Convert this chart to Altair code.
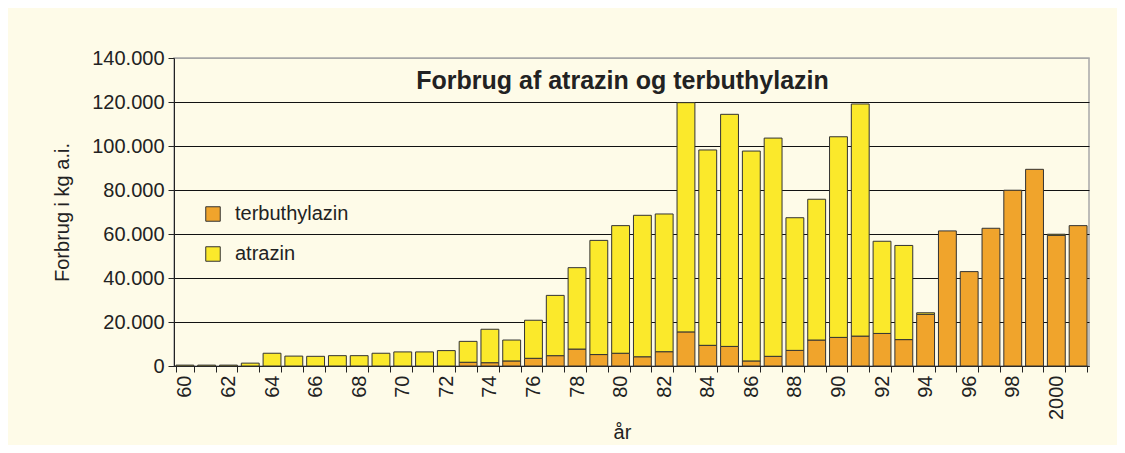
import altair as alt
import pandas as pd

years = list(range(1960, 2002))
terbuthylazin = [0, 0, 0, 0, 0, 0, 0, 0, 0, 0, 0, 0, 0,
                 1700, 1500, 2300, 3500, 4700, 7700, 5200, 5800, 4200, 6500,
                 15500, 9400, 8900, 2300, 4400, 7100, 11800, 13000, 13600, 14800,
                 12000, 23500, 61400, 42900, 62600, 79900, 89400, 59400, 63800]
atrazin = [400, 400, 400, 1300, 5800, 4500, 4400, 4700, 4700, 5800, 6400, 6400, 7000,
           9500, 15200, 9500, 17300, 27400, 37000, 51900, 58000, 64300, 62600,
           104200, 88800, 105500, 95400, 99200, 60300, 64000, 91200, 105500, 41900,
           42800, 700, 0, 0, 0, 0, 0, 500, 0]
series = ["terbuthylazin", "atrazin"]
colors = ["#F0A42C", "#FBE92B"]
y_ticks = [0, 20000, 40000, 60000, 80000, 100000, 120000, 140000]

rows = []
for yr, t, a in zip(years, terbuthylazin, atrazin):
    rows.append({"year": yr, "stof": series[0], "ord": 0, "value": t})
    rows.append({"year": yr, "stof": series[1], "ord": 1, "value": a})
df = pd.DataFrame(rows)

bg = "#FEFBE8"
font = "Liberation Sans"

chart = alt.Chart(df).transform_filter(
    "datum.value > 0"
).mark_bar(stroke="#333333", strokeWidth=1).encode(
    x=alt.X(
        "year:O",
        scale=alt.Scale(paddingInner=0.18),
        axis=alt.Axis(
            title="år",
            labelExpr="datum.value % 2 == 0 ? (datum.value == 2000 ? '2000' : substring(toString(datum.value), 2, 4)) : ''",
            labelAngle=270,
            labelFontSize=20,
            labelOverlap=False,
            tickBand="extent",
            tickSize=6,
            labelPadding=3,
            titleX=448,
            titleY=66,
            titleBaseline="middle",
            titleAlign="center",
        ),
    ),
    y=alt.Y(
        "value:Q",
        stack="zero",
        scale=alt.Scale(domain=[0, 140000], nice=False),
        axis=alt.Axis(
            title="Forbrug i kg a.i.",
            values=y_ticks,
            labelExpr="replace(format(datum.value, ','), ',', '.')",
            labelFontSize=20,
            tickSize=6,
            labelPadding=4,
            gridColor={"condition": {"test": "datum.value == 140000", "value": "#A8A8A8"}, "value": "#111111"},
            titleX=-112,
            titleY=154,
            titleAngle=270,
            titleAlign="center",
            titleBaseline="middle",
        ),
    ),
    color=alt.Color(
        "stof:N",
        scale=alt.Scale(domain=series, range=colors),
        legend=alt.Legend(
            title=None,
            orient="none",
            legendX=29,
            legendY=146,
            labelFontSize=20,
            symbolType="square",
            symbolSize=210,
            symbolStrokeColor="#333333",
            symbolStrokeWidth=1,
            rowPadding=20,
            labelOffset=12,
            padding=0,
        ),
    ),
    order=alt.Order("ord:Q"),
).properties(
    width=915,
    height=308,
    title=alt.TitleParams(
        "Forbrug af atrazin og terbuthylazin",
        fontSize=25,
        fontWeight="bold",
        anchor="middle",
        baseline="middle",
        offset=0,
        dy=58,
        dx=-9,
        color="#222222",
        font=font,
    ),
    autosize=alt.AutoSizeParams(type="none"),
    padding={"left": 166, "top": 50, "right": 28, "bottom": 79},
    background=bg,
).configure_view(
    stroke="#A8A8A8",
    strokeWidth=1.5,
    fill=bg,
).configure_axis(
    labelFont=font,
    titleFont=font,
    labelColor="#222222",
    titleColor="#222222",
    titleFontSize=20,
    titleFontWeight="normal",
    domainColor="#222222",
    tickColor="#222222",
    gridWidth=1,
).configure_axisY(
    grid=True,
).configure_axisX(
    grid=False,
).configure_legend(
    labelFont=font,
    labelColor="#222222",
)

chart.save("out.html", embed_options={"renderer": "svg", "actions": False})
